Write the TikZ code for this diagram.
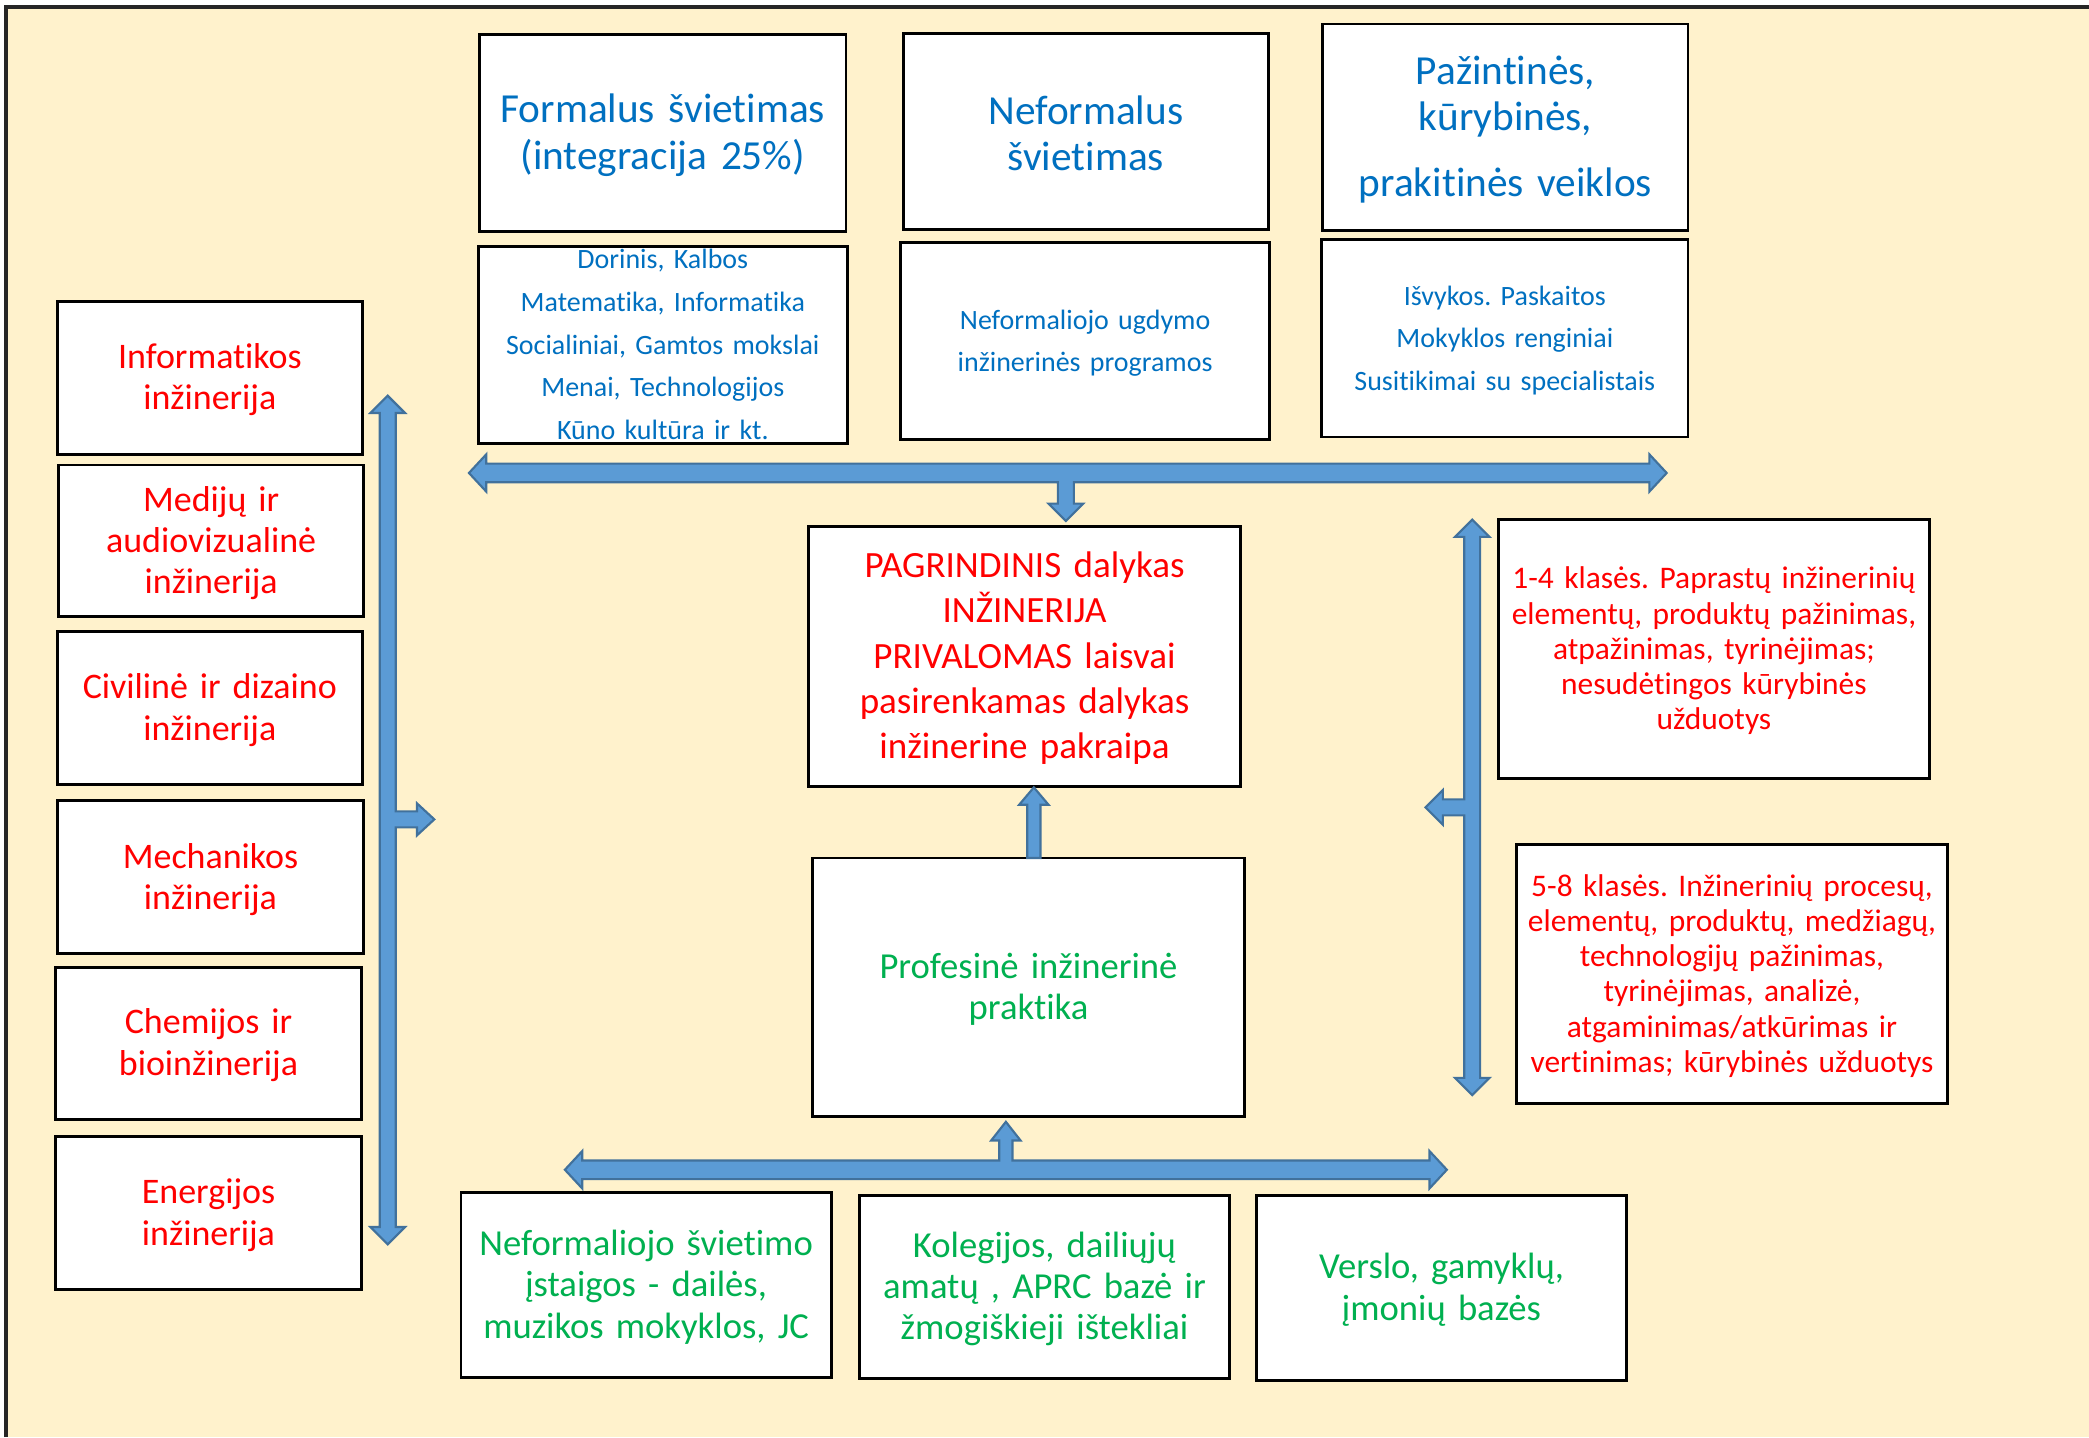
\documentclass[tikz,border=0pt]{standalone}
\usepackage{fontspec}
\setmainfont{Carlito}[Ligatures=NoCommon]
\frenchspacing
\definecolor{bgcream}{HTML}{FFF2CC}
\definecolor{tblue}{HTML}{0070C0}
\definecolor{tred}{HTML}{FF0000}
\definecolor{tgreen}{HTML}{00B050}
\definecolor{afill}{HTML}{5B9BD5}
\definecolor{aline}{HTML}{41719C}
\newcommand\mybox[8][1.5]{%
  \pgfmathsetmacro\cx{(#3+#5)/2}\pgfmathsetmacro\cy{(#4+#6)/2}%
  \pgfmathsetmacro\ty{(#4+#6)/2+#1}%
  \pgfmathsetmacro\ww{(#5-#3)*0.5}\pgfmathsetmacro\hh{(#6-#4)*0.5}%
  \node[box,minimum width=\ww pt,minimum height=\hh pt] (#2) at (\cx,\cy) {};
  \node[btext,#7,text width=\ww pt] (#2-t) at (\cx,\ty) {#8};}
\begin{document}
\begin{tikzpicture}[x=0.5pt,y=-0.5pt,
  box/.style={draw=black,line width=1.1pt,fill=white,inner sep=0pt},
  btext/.style={inner sep=0pt,align=center},
  title/.style={text=tblue,font=\fontsize{15.5pt}{17.5pt}\selectfont},
  small/.style={text=tblue,font=\fontsize{10.5pt}{16pt}\selectfont},
  redbig/.style={text=tred,font=\fontsize{13.5pt}{15.5pt}\selectfont},
  redmain/.style={text=tred,font=\fontsize{13.9pt}{17pt}\selectfont},
  redsmall/.style={text=tred,font=\fontsize{11.8pt}{13.2pt}\selectfont},
  green/.style={text=tgreen,font=\fontsize{13.75pt}{15.5pt}\selectfont},
  blockarrow/.style={fill=afill,draw=aline,line width=0.8pt,line join=miter}]
\useasboundingbox (0,0) rectangle (1568,1078.6);
\fill[white] (0,0) rectangle (1568,1078.6);
\fill[bgcream] (4.5,5) rectangle (1568,1078.6);
\draw[line width=1.4pt,black!85] (4.5,1078.6) -- (4.5,5) -- (1568,5);
% top row
\mybox{formal}{360}{26}{635}{174}{title}{Formalus švietimas\\(integracija 25\%)}
\mybox{neform}{678}{25}{952}{172}{title}{Neformalus\\švietimas}
\mybox{pazint}{993}{18}{1267}{173}{title}{Pažintinės,\\kūrybinės,\\[7pt]prakitinės veiklos}
\mybox[-0.5]{dorinis}{359}{185}{636}{333}{small}{Dorinis, Kalbos\\Matematika, Informatika\\Socialiniai, Gamtos mokslai\\Menai, Technologijos\\Kūno kultūra ir kt.}
\mybox{ugdymo}{676}{182}{953}{330}{small}{Neformaliojo ugdymo\\inžinerinės programos}
\mybox{isvykos}{992}{180}{1267}{328}{small}{Išvykos. Paskaitos\\Mokyklos renginiai\\Susitikimai su specialistais}
% left column
\mybox{inf}{43}{226}{272}{341}{redbig}{Informatikos\\inžinerija}
\mybox{med}{44}{349}{273}{463}{redbig}{Medijų ir\\audiovizualinė\\inžinerija}
\mybox{civ}{43}{474}{272}{589}{redbig}{Civilinė ir dizaino\\inžinerija}
\mybox{mech}{43}{601}{273}{716}{redbig}{Mechanikos\\inžinerija}
\mybox{chem}{42}{726}{271}{840}{redbig}{Chemijos ir\\bioinžinerija}
\mybox{energ}{42}{853}{271}{968}{redbig}{Energijos\\inžinerija}
% centre
\mybox{pagr}{607}{395}{931}{590}{redmain}{PAGRINDINIS dalykas\\INŽINERIJA\\PRIVALOMAS laisvai\\pasirenkamas dalykas\\inžinerine pakraipa}
\mybox{prof}{610}{644}{934}{838}{green}{Profesinė inžinerinė\\praktika}
% right column
\mybox{k14}{1125}{390}{1448}{584}{redsmall}{1-4 klasės. Paprastų inžinerinių\\elementų, produktų pažinimas,\\atpažinimas, tyrinėjimas;\\nesudėtingos kūrybinės\\užduotys}
\mybox{k58}{1138}{634}{1462}{828}{redsmall}{5-8 klasės. Inžinerinių procesų,\\elementų, produktų, medžiagų,\\technologijų pažinimas,\\tyrinėjimas, analizė,\\atgaminimas/atkūrimas ir\\vertinimas; kūrybinės užduotys}
% bottom row
\mybox{nsi}{346}{895}{624}{1034}{green}{Neformaliojo švietimo\\įstaigos - dailės,\\muzikos mokyklos, JC}
\mybox{kol}{645}{897}{923}{1035}{green}{Kolegijos, dailiųjų\\amatų , APRC bazė ir\\žmogiškieji ištekliai}
\mybox{vers}{943}{897}{1221}{1036}{green}{Verslo, gamyklų,\\įmonių bazės}
% block arrows
\draw[blockarrow] (352,355) -- (365,341) -- (365,348) -- (1238,348) -- (1238,341) -- (1251,355)
  -- (1238,369) -- (1238,362) -- (806,362) -- (806,378) -- (813,378) -- (800,391) -- (787,378)
  -- (794,378) -- (794,362) -- (365,362) -- (365,369) -- cycle;
\draw[blockarrow] (771,644) -- (771,604) -- (765,604) -- (776,591) -- (787,604) -- (781,604) -- (781,644) -- cycle;
\draw[blockarrow] (424,878) -- (437,864) -- (437,871) -- (750,871) -- (750,856) -- (744,856) -- (755,842)
  -- (766,856) -- (760,856) -- (760,871) -- (1073,871) -- (1073,864) -- (1086,878) -- (1073,892)
  -- (1073,885) -- (437,885) -- (437,892) -- cycle;
\draw[blockarrow] (291,297) -- (304,310) -- (297,310) -- (297,609) -- (313,609) -- (313,603) -- (326,615)
  -- (313,627) -- (313,621) -- (297,621) -- (297,921) -- (304,921) -- (291,934) -- (278,921)
  -- (285,921) -- (285,310) -- (278,310) -- cycle;
\draw[blockarrow] (1105,390) -- (1118,403) -- (1111,403) -- (1111,809) -- (1118,809) -- (1105,822)
  -- (1092,809) -- (1099,809) -- (1099,612) -- (1083,612) -- (1083,619) -- (1070,606) -- (1083,593)
  -- (1083,600) -- (1099,600) -- (1099,403) -- (1092,403) -- cycle;
\end{tikzpicture}
\end{document}
